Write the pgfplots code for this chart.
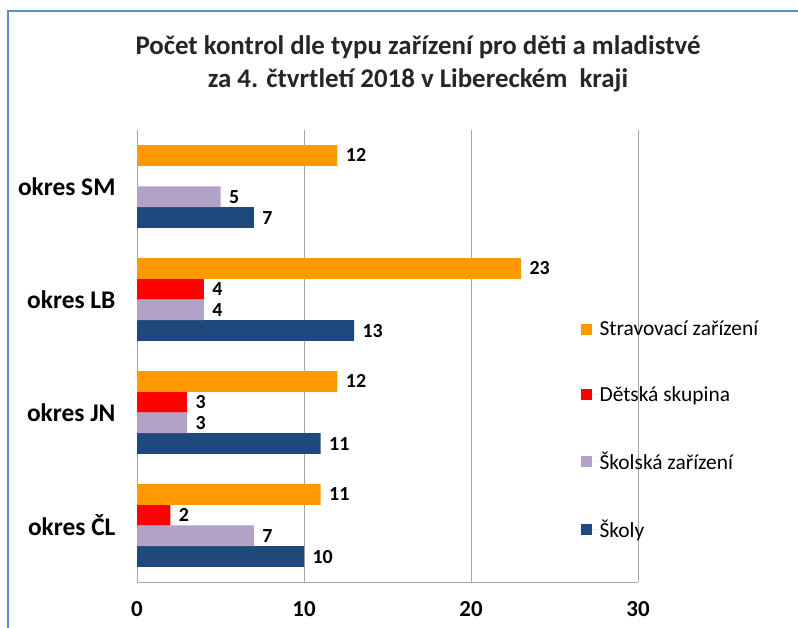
\documentclass[border=0pt]{standalone}
\usepackage{fontspec}
\setmainfont{Carlito}
\usepackage{pgfplots}
\pgfplotsset{compat=1.18}
\definecolor{cOrange}{HTML}{FF9900}
\definecolor{cRed}{HTML}{FF0000}
\definecolor{cLav}{HTML}{B3A2C7}
\definecolor{cNavy}{HTML}{1F497D}
\definecolor{cFrame}{HTML}{5B8BD0}
\definecolor{cGrid}{HTML}{A6A6A6}
\begin{document}
\begin{tikzpicture}
\useasboundingbox (0,0) rectangle (798bp,628bp);
\draw[cFrame, line width=2bp] (8bp,-10bp) -- (8bp,617bp) -- (810bp,617bp);
\node[align=center, font=\bfseries\fontsize{27}{33}\selectfont, text=black!85] at (418bp,564bp)
  {Počet kontrol dle typu zařízení pro děti a mladistvé\\za 4. čtvrtletí 2018 v Libereckém\ \ kraji};
\begin{axis}[
  at={(137bp,46bp)}, anchor=south west,
  scale only axis, width=501bp, height=452bp,
  xbar=0pt, bar width=20.7bp,
  xmin=0, xmax=30, ymin=-0.5, ymax=3.5,
  xtick={0,10,20,30},
  ytick={0,1,2,3},
  yticklabels={okres ČL, okres JN, okres LB, okres SM},
  axis x line*=bottom, axis y line*=left,
  axis line style={cGrid, line width=1bp, -},
  major tick length=0pt,
  xmajorgrids, grid style={cGrid, line width=1bp},
  /pgf/number format/assume math mode=true,
  x tick label style={font=\bfseries\fontsize{23}{23}\selectfont, yshift=-16bp},
  y tick label style={font=\bfseries\fontsize{25.5}{25.5}\selectfont, xshift=-18bp},
  nodes near coords,
  every node near coord/.append style={font=\bfseries\fontsize{20}{20}\selectfont, anchor=west, xshift=5bp},
  legend reversed,
  legend cell align=left,
  legend style={at={(0.885,0.582)}, anchor=north west, draw=none, fill=none,
    font=\fontsize{21.5}{21.5}\selectfont, row sep=45bp, inner sep=0pt},
  legend image code/.code={\path (0bp,0bp) -- (17bp,0bp);\fill[#1,draw=none] (0bp,-5.5bp) rectangle (11bp,5.5bp);},
]
\addplot[fill=cNavy, draw=none] coordinates {(10,0) (11,1) (13,2) (7,3)};
\addlegendentry{Školy}
\addplot[fill=cLav, draw=none] coordinates {(7,0) (3,1) (4,2) (5,3)};
\addlegendentry{Školská zařízení}
\addplot[fill=cRed, draw=none] coordinates {(2,0) (3,1) (4,2)};
\addlegendentry{Dětská skupina}
\addplot[fill=cOrange, draw=none] coordinates {(11,0) (12,1) (23,2) (12,3)};
\addlegendentry{Stravovací zařízení}
\end{axis}
\end{tikzpicture}
\end{document}
